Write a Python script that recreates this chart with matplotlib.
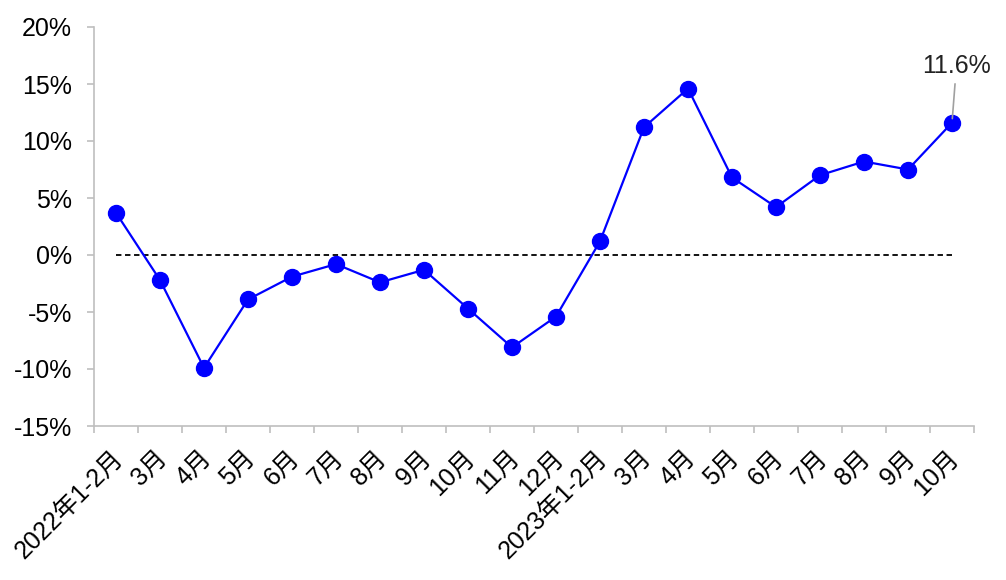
import matplotlib
matplotlib.use("Agg")
import matplotlib.pyplot as plt
import matplotlib.transforms as mtrans
from matplotlib.ticker import FuncFormatter, FixedLocator

plt.rcParams['font.family'] = ['Liberation Sans', 'Noto Sans CJK SC', 'DejaVu Sans']

# data
months = ["2022年1-2月", "3月", "4月", "5月", "6月", "7月", "8月", "9月", "10月", "11月", "12月",
          "2023年1-2月", "3月", "4月", "5月", "6月", "7月", "8月", "9月", "10月"]
growth = [3.7, -2.2, -9.9, -3.9, -1.9, -0.8, -2.4, -1.3, -4.7, -8.1, -5.4,
          1.2, 11.2, 14.6, 6.8, 4.2, 7.0, 8.2, 7.5, 11.6]
yticks = [-15, -10, -5, 0, 5, 10, 15, 20]

fig = plt.figure(figsize=(10.06, 5.8), dpi=100)
ax = fig.add_axes([94 / 1006, 154 / 580, 880 / 1006, 399 / 580])

x = list(range(len(months)))
ax.plot([x[0], x[-1]], [0, 0], color='black', linestyle=(0, (3, 2)), linewidth=1.3, zorder=2)
ax.plot(x, growth, color='#0000ff', linewidth=1.6, marker='o', markersize=11.5, zorder=3)

ax.set_xlim(-0.5, len(months) - 0.5)
ax.set_ylim(-15, 20)
ax.set_yticks(yticks)
ax.yaxis.set_major_formatter(FuncFormatter(lambda v, p: "{0:d}%".format(int(v))))

ax.set_xticks(x)
ax.set_xticklabels(months, rotation=45, ha='right', rotation_mode='anchor', fontsize=18)
ax.tick_params(axis='x', length=0, pad=14)
shift = mtrans.ScaledTranslation(-5 / 100, 0, fig.dpi_scale_trans)
for lab in ax.get_xticklabels():
    lab.set_transform(lab.get_transform() + shift)
ax.xaxis.set_minor_locator(FixedLocator([i - 0.5 for i in range(len(months) + 1)]))
ax.tick_params(axis='x', which='minor', length=5, color='#bfbfbf', width=1.2)
ax.tick_params(axis='y', length=5, color='#bfbfbf', width=1.2, labelsize=18, pad=11)

for s in ['top', 'right']:
    ax.spines[s].set_visible(False)
for s in ['left', 'bottom']:
    ax.spines[s].set_color('#bfbfbf')
    ax.spines[s].set_linewidth(1.2)

ax.annotate("{0}%".format(growth[-1]), xy=(x[-1], growth[-1]), xytext=(x[-1] + 0.1, 15.5),
            ha='center', va='bottom', fontsize=18, color='#222222',
            arrowprops=dict(arrowstyle='-', color='#a0a0a0', lw=1.2, shrinkA=2, shrinkB=3))

fig.savefig("out.png", dpi=100)
